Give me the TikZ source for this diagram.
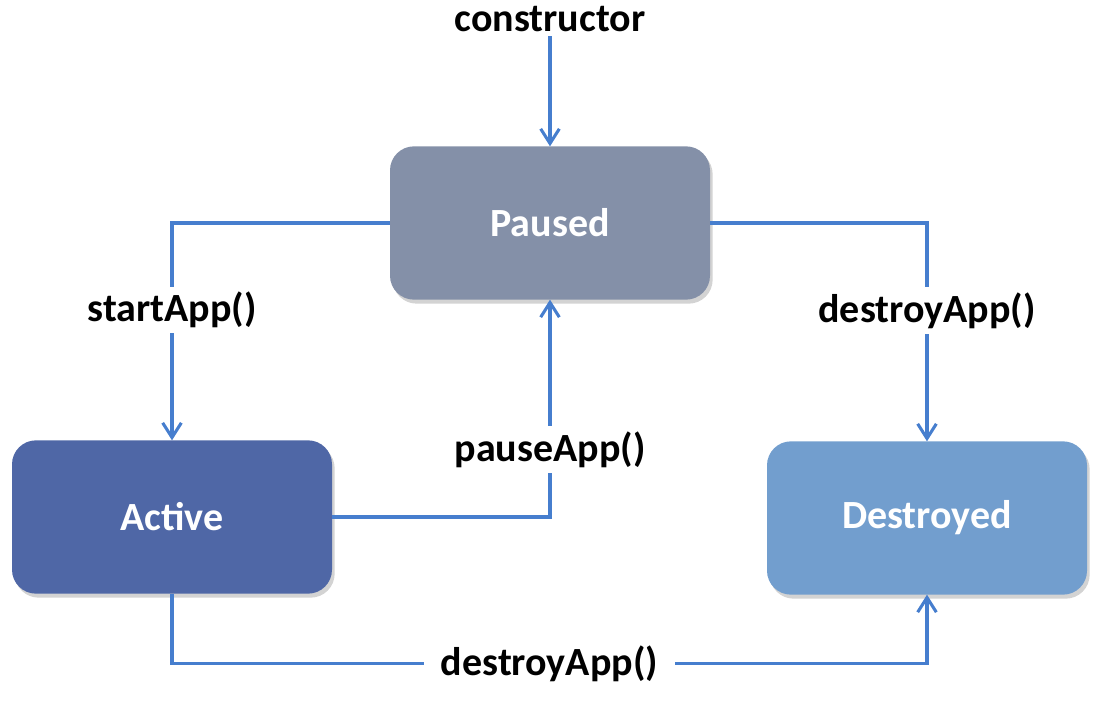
\documentclass[tikz,border=0pt]{standalone}
\usepackage{fontspec}
\setmainfont{Carlito}
\usetikzlibrary{arrows.meta,shadows}
\definecolor{pausedcol}{RGB}{132,144,168}
\definecolor{activecol}{RGB}{79,103,166}
\definecolor{destroyedcol}{RGB}{114,158,206}
\definecolor{linecol}{RGB}{70,126,206}

\begin{document}
\begin{tikzpicture}[x=0.75pt,y=-0.75pt,
  every node/.style={font=\fontsize{30}{36}\selectfont\bfseries},
  state/.style={rounded corners=18pt, minimum width=240pt, minimum height=115pt, outer sep=0pt, text=white,
                drop shadow={opacity=0.35, shadow xshift=2pt, shadow yshift=-3pt}},
  trans/.style={linecol, line width=2.3pt, -{Straight Barb[length=11pt,width=14pt]}},
  lbl/.style={fill=white, text=black, inner xsep=13pt, inner ysep=4pt}]
\useasboundingbox (0,0) rectangle (1096,702);

\node[state, fill=pausedcol] (paused) at (550,223) {Paused};
\node[state, fill=activecol] (active) at (172,517) {Active};
\node[state, fill=destroyedcol] (destroyed) at (927,518) {Destroyed};
\node (ctor) at (550,19) {constructor};

\draw[trans] (ctor.south) -- (paused.north);
\draw[trans] (paused.west) -| node[lbl, pos=0.7] {startApp()} (active.north);
\draw[trans] (paused.east) -| node[lbl, pos=0.7] {destroyApp()} (destroyed.north);
\draw[trans] (active.east) -| node[lbl, pos=0.655] {pauseApp()} (paused.south);
\draw[trans] (active.south) -- ++(0,70) -| node[lbl, pos=0.25] {destroyApp()} (destroyed.south);
\end{tikzpicture}
\end{document}
